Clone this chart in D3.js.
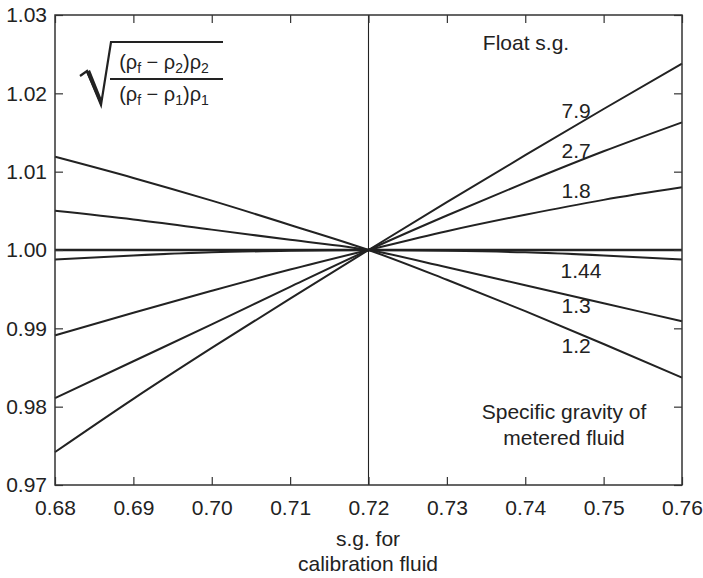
<!DOCTYPE html>
<html>
<head>
<meta charset="utf-8">
<script src="https://cdn.jsdelivr.net/npm/d3@7"></script>
<style>
  html, body { margin: 0; padding: 0; background: #fff; }
  svg { display: block; font-family: "Liberation Sans", Arial, sans-serif; }
</style>
</head>
<body>
<svg id="chart" width="703" height="578"></svg>
<script>
// Specific gravity of calibration fluid (x positions)
const sgCalibration = [0.68, 0.69, 0.70, 0.71, 0.72, 0.73, 0.74, 0.75, 0.76];

// Correction factor for each float specific gravity
const float79  = [0.9742, 0.9810, 0.9875, 0.9938, 1.0000, 1.0061, 1.0121, 1.0180, 1.0238];
const float27  = [0.9811, 0.9858, 0.9905, 0.9953, 1.0000, 1.0044, 1.0086, 1.0126, 1.0163];
const float18  = [0.9891, 0.9920, 0.9948, 0.9975, 1.0000, 1.0024, 1.0045, 1.0064, 1.0080];
const float144 = [0.9988, 0.9993, 0.9997, 0.9999, 1.0000, 0.9999, 0.9997, 0.9993, 0.9988];
const float13  = [1.0050, 1.0039, 1.0026, 1.0013, 1.0000, 0.9978, 0.9955, 0.9932, 0.9909];
const float12  = [1.0119, 1.0092, 1.0063, 1.0032, 1.0000, 0.9962, 0.9922, 0.9880, 0.9837];

const floatLabels = ["7.9", "2.7", "1.8", "1.44", "1.3", "1.2"];
const xTicks = [0.68, 0.69, 0.70, 0.71, 0.72, 0.73, 0.74, 0.75, 0.76];
const yTicks = [0.97, 0.98, 0.99, 1.00, 1.01, 1.02, 1.03];

const series = [float79, float27, float18, float144, float13, float12];

const svg = d3.select("#chart");
const margin = { left: 55, right: 21, top: 15, bottom: 93 };
const W = 703, H = 578;
const iw = W - margin.left - margin.right;
const ih = H - margin.top - margin.bottom;

const x = d3.scaleLinear().domain([0.68, 0.76]).range([0, iw]);
const y = d3.scaleLinear().domain([0.97, 1.03]).range([ih, 0]);

const g = svg.append("g").attr("transform", `translate(${margin.left},${margin.top})`);
const ink = "#222";
const fs = "21px";

// Reference lines: unity factor and the calibration s.g.
g.append("line")
  .attr("x1", x(0.68)).attr("x2", x(0.76))
  .attr("y1", y(1.0)).attr("y2", y(1.0))
  .attr("stroke", ink).attr("stroke-width", 2.6);
g.append("line")
  .attr("x1", x(0.72)).attr("x2", x(0.72))
  .attr("y1", 0).attr("y2", ih)
  .attr("stroke", ink).attr("stroke-width", 1.1);

// Curves
const line = d3.line()
  .x((d, i) => x(sgCalibration[i]))
  .y(d => y(d))
  .curve(d3.curveMonotoneX);

g.selectAll("path.curve")
  .data(series)
  .join("path")
  .attr("class", "curve")
  .attr("d", line)
  .attr("fill", "none")
  .attr("stroke", ink)
  .attr("stroke-width", 2);

// Axes with inward ticks on all four sides
const fmt2 = d3.format(".2f");
const styleAxis = sel => {
  sel.select(".domain").remove();
  sel.selectAll(".tick line").attr("stroke", "#333").attr("stroke-width", 1.2);
  sel.selectAll(".tick text").attr("fill", ink).style("font-size", fs)
    .style("font-family", "'Liberation Sans', Arial, sans-serif");
};

g.append("g").attr("transform", `translate(0,${ih})`)
  .call(d3.axisBottom(x).tickValues(xTicks).tickFormat(fmt2).tickSize(-8).tickPadding(15))
  .call(styleAxis);
g.append("g")
  .call(d3.axisLeft(y).tickValues(yTicks).tickFormat(fmt2).tickSize(-8).tickPadding(8))
  .call(styleAxis);
g.append("g")
  .call(d3.axisTop(x).tickValues(xTicks).tickSize(-8).tickFormat(""))
  .call(styleAxis);
g.append("g").attr("transform", `translate(${iw},0)`)
  .call(d3.axisRight(y).tickValues(yTicks).tickSize(-8).tickFormat(""))
  .call(styleAxis);

// Frame
g.append("rect")
  .attr("width", iw).attr("height", ih)
  .attr("fill", "none").attr("stroke", "#333").attr("stroke-width", 1.5);

// Curve labels
const labelPos = [
  { x: 0.7465, y: 1.0168 },
  { x: 0.7465, y: 1.0118 },
  { x: 0.7465, y: 1.0067 },
  { x: 0.7471, y: 0.9964 },
  { x: 0.7465, y: 0.9919 },
  { x: 0.7465, y: 0.9868 }
];
g.selectAll("text.flabel")
  .data(floatLabels)
  .join("text")
  .attr("class", "flabel")
  .attr("x", (d, i) => x(labelPos[i].x))
  .attr("y", (d, i) => y(labelPos[i].y))
  .attr("text-anchor", "middle")
  .attr("fill", ink)
  .style("font-size", fs)
  .text(d => d);

// Annotations
const ann = (txt, px, py) => svg.append("text")
  .attr("x", px).attr("y", py).attr("text-anchor", "middle")
  .attr("fill", ink).style("font-size", fs).text(txt);
ann("Float s.g.", 526, 50);
ann("Specific gravity of", 564, 419);
ann("metered fluid", 564, 445);
ann("s.g. for", 368, 546);
ann("calibration fluid", 368, 571);

// Correction-factor formula: radical sign, fraction bar, numerator, denominator
const f = svg.append("g");
f.append("path")
  .attr("d", "M80,76 L87,71 L101,105 L111,42 L223,42")
  .attr("fill", "none").attr("stroke", ink).attr("stroke-width", 2.2)
  .attr("stroke-linejoin", "miter");
f.append("path")
  .attr("d", "M86,72 L90,70 L102,100 L101,106 Z")
  .attr("fill", ink);
f.append("line").attr("x1", 110).attr("x2", 223).attr("y1", 79).attr("y2", 79)
  .attr("stroke", ink).attr("stroke-width", 2);

const frac = (py, sub) => {
  const t = f.append("text").attr("x", 164).attr("y", py).attr("text-anchor", "middle")
    .attr("fill", ink).style("font-size", "20px");
  t.append("tspan").text("(ρ");
  t.append("tspan").attr("dy", 4).style("font-size", "14px").text("f");
  t.append("tspan").attr("dy", -4).text(" − ρ");
  t.append("tspan").attr("dy", 4).style("font-size", "14px").text(sub);
  t.append("tspan").attr("dy", -4).text(")ρ");
  t.append("tspan").attr("dy", 4).style("font-size", "14px").text(sub);
};
frac(69, "2");
frac(101, "1");
</script>
</body>
</html>
